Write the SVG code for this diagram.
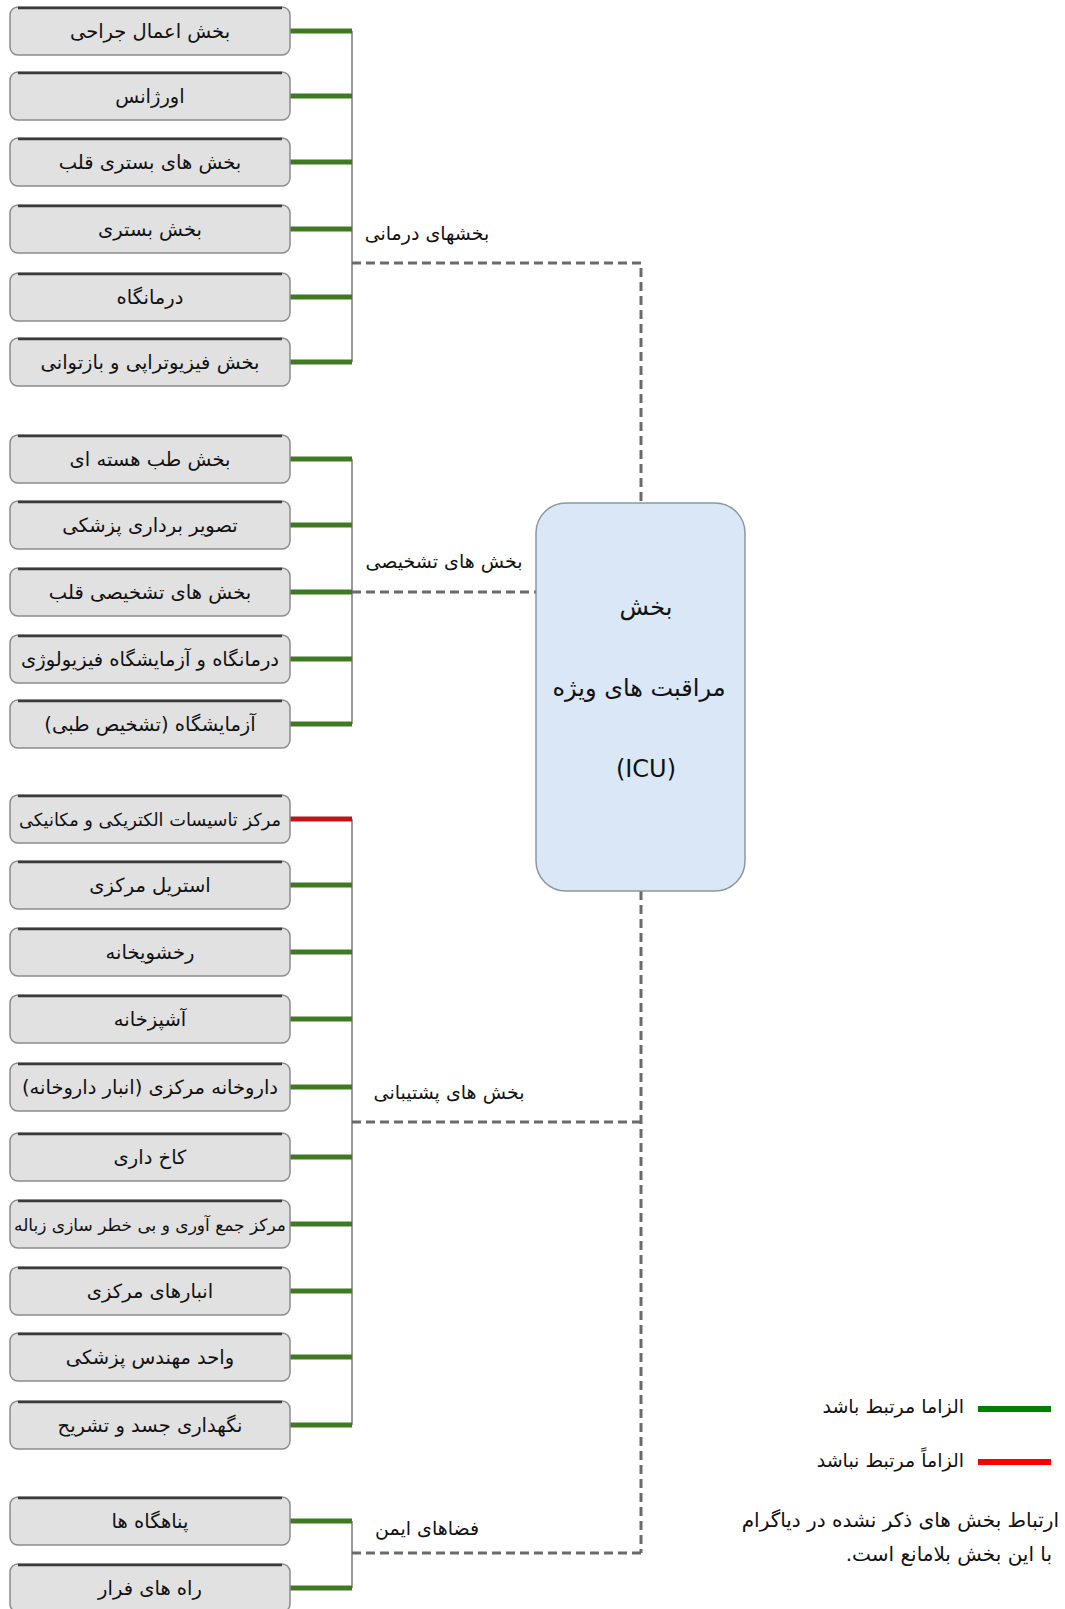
<svg xmlns="http://www.w3.org/2000/svg" width="1065" height="1609" viewBox="0 0 1065 1609">
<style>
  .box { fill: #e1e1e1; stroke: #8c8c8c; stroke-width: 1.5; }
  .boxtop { stroke: #3a3a3a; stroke-width: 2.5; fill: none; }
  .lbl { font-family: "DejaVu Sans", "Noto Sans", sans-serif; font-size: 19.5px; fill: #111; text-anchor: middle; direction: rtl; }
  .grp { font-family: "DejaVu Sans", "Noto Sans", sans-serif; font-size: 19px; fill: #111; text-anchor: middle; direction: rtl; }
  .leg { font-family: "DejaVu Sans", "Noto Sans", sans-serif; font-size: 19px; fill: #111; text-anchor: start; direction: rtl; }
  .note { font-family: "DejaVu Sans", "Noto Sans", sans-serif; font-size: 20px; fill: #111; text-anchor: start; direction: rtl; }
  .icu { font-family: "DejaVu Sans", "Noto Sans", sans-serif; font-size: 24px; fill: #111; text-anchor: middle; direction: rtl; }
  .req { stroke: #3f7a22; stroke-width: 5; fill: none; }
  .no { stroke: #c0141a; stroke-width: 5; fill: none; }
  .bus { stroke: #7a7a7a; stroke-width: 1.5; fill: none; }
  .dash { stroke: #6a6a6a; stroke-width: 3; stroke-dasharray: 9 5; fill: none; }
</style>
<defs>
  <g id="nodeShape">
    <rect class="box" x="10" y="-24" width="280" height="48" rx="8"/>
    <path class="boxtop" d="M18,-23 H282"/>
  </g>
</defs>

<!-- connectors -->
<g id="connectors">
  <!-- treatment group -->
  <path class="bus" d="M352,31 V362"/>
  <path class="req" d="M290,31 H352 M290,96 H352 M290,162 H352 M290,229 H352 M290,297 H352 M290,362 H352"/>
  <path class="dash" d="M352,263 H641 V503"/>
  <!-- diagnostic group -->
  <path class="bus" d="M352,459 V724"/>
  <path class="req" d="M290,459 H352 M290,525 H352 M290,592 H352 M290,659 H352 M290,724 H352"/>
  <path class="dash" d="M352,592 H536"/>
  <!-- support group -->
  <path class="bus" d="M352,819 V1425"/>
  <path class="no" d="M290,819 H352"/>
  <path class="req" d="M290,885 H352 M290,952 H352 M290,1019 H352 M290,1087 H352 M290,1157 H352 M290,1224 H352 M290,1291 H352 M290,1357 H352 M290,1425 H352"/>
  <path class="dash" d="M641,891 V1553 M352,1122 H641"/>
  <!-- safe spaces group -->
  <path class="bus" d="M352,1521 V1588"/>
  <path class="req" d="M290,1521 H352 M290,1588 H352"/>
  <path class="dash" d="M352,1553 H641"/>
</g>

<!-- group labels -->
<g id="group-labels">
  <text class="grp" x="427" y="240">بخشهای درمانی</text>
  <text class="grp" x="444" y="568">بخش های تشخیصی</text>
  <text class="grp" x="449" y="1099">بخش های پشتیبانی</text>
  <text class="grp" x="427" y="1535">فضاهای ایمن</text>
</g>

<!-- central unit -->
<g id="icu">
  <rect x="536" y="503" width="209" height="388" rx="30" fill="#d9e7f7" stroke="#8d97a3" stroke-width="1.5"/>
  <text class="icu" x="646" y="615">بخش</text>
  <text class="icu" x="639" y="696">مراقبت های ویژه</text>
  <text class="icu" x="646" y="777" style="direction:ltr">(ICU)</text>
</g>

<!-- treatment nodes -->
<g id="n-surgery" transform="translate(0,31)"><use href="#nodeShape"/><text class="lbl" x="150" y="7">بخش اعمال جراحی</text></g>
<g id="n-emergency" transform="translate(0,96)"><use href="#nodeShape"/><text class="lbl" x="150" y="7">اورژانس</text></g>
<g id="n-cardiac-ward" transform="translate(0,162)"><use href="#nodeShape"/><text class="lbl" x="150" y="7">بخش های بستری قلب</text></g>
<g id="n-ward" transform="translate(0,229)"><use href="#nodeShape"/><text class="lbl" x="150" y="7">بخش بستری</text></g>
<g id="n-clinic" transform="translate(0,297)"><use href="#nodeShape"/><text class="lbl" x="150" y="7">درمانگاه</text></g>
<g id="n-physio" transform="translate(0,362)"><use href="#nodeShape"/><text class="lbl" x="150" y="7">بخش فیزیوتراپی و بازتوانی</text></g>

<!-- diagnostic nodes -->
<g id="n-nuclear" transform="translate(0,459)"><use href="#nodeShape"/><text class="lbl" x="150" y="7">بخش طب هسته ای</text></g>
<g id="n-imaging" transform="translate(0,525)"><use href="#nodeShape"/><text class="lbl" x="150" y="7">تصویر برداری پزشکی</text></g>
<g id="n-cardiac-diag" transform="translate(0,592)"><use href="#nodeShape"/><text class="lbl" x="150" y="7">بخش های تشخیصی قلب</text></g>
<g id="n-physiology" transform="translate(0,659)"><use href="#nodeShape"/><text class="lbl" x="150" y="7">درمانگاه و آزمایشگاه فیزیولوژی</text></g>
<g id="n-lab" transform="translate(0,724)"><use href="#nodeShape"/><text class="lbl" x="150" y="7">آزمایشگاه (تشخیص طبی)</text></g>

<!-- support nodes -->
<g id="n-mech-elec" transform="translate(0,819)"><use href="#nodeShape"/><text class="lbl" x="150" y="7" style="font-size:17.8px">مرکز تاسیسات الکتریکی و مکانیکی</text></g>
<g id="n-sterile" transform="translate(0,885)"><use href="#nodeShape"/><text class="lbl" x="150" y="7">استریل مرکزی</text></g>
<g id="n-laundry" transform="translate(0,952)"><use href="#nodeShape"/><text class="lbl" x="150" y="7">رخشویخانه</text></g>
<g id="n-kitchen" transform="translate(0,1019)"><use href="#nodeShape"/><text class="lbl" x="150" y="7">آشپزخانه</text></g>
<g id="n-pharmacy" transform="translate(0,1087)"><use href="#nodeShape"/><text class="lbl" x="150" y="7">داروخانه مرکزی (انبار داروخانه)</text></g>
<g id="n-housekeeping" transform="translate(0,1157)"><use href="#nodeShape"/><text class="lbl" x="150" y="7">کاخ داری</text></g>
<g id="n-waste" transform="translate(0,1224)"><use href="#nodeShape"/><text class="lbl" x="150" y="7" style="font-size:17px">مرکز جمع آوری و بی خطر سازی زباله</text></g>
<g id="n-stores" transform="translate(0,1291)"><use href="#nodeShape"/><text class="lbl" x="150" y="7">انبارهای مرکزی</text></g>
<g id="n-biomed" transform="translate(0,1357)"><use href="#nodeShape"/><text class="lbl" x="150" y="7">واحد مهندس پزشکی</text></g>
<g id="n-morgue" transform="translate(0,1425)"><use href="#nodeShape"/><text class="lbl" x="150" y="7">نگهداری جسد و تشریح</text></g>

<!-- safe space nodes -->
<g id="n-shelters" transform="translate(0,1521)"><use href="#nodeShape"/><text class="lbl" x="150" y="7">پناهگاه ها</text></g>
<g id="n-escape" transform="translate(0,1588)"><use href="#nodeShape"/><text class="lbl" x="150" y="7">راه های فرار</text></g>

<!-- legend -->
<g id="legend">
  <path d="M978,1409 H1051" stroke="#008000" stroke-width="6"/>
  <text class="leg" x="964" y="1413">الزاما مرتبط باشد</text>
  <path d="M978,1462 H1051" stroke="#ff0000" stroke-width="6"/>
  <text class="leg" x="964" y="1467">الزاماً مرتبط نباشد</text>
  <text class="note" x="1059" y="1527">ارتباط بخش های ذکر نشده در دیاگرام</text>
  <text class="note" x="1052" y="1561">با این بخش بلامانع است.</text>
</g>
</svg>
